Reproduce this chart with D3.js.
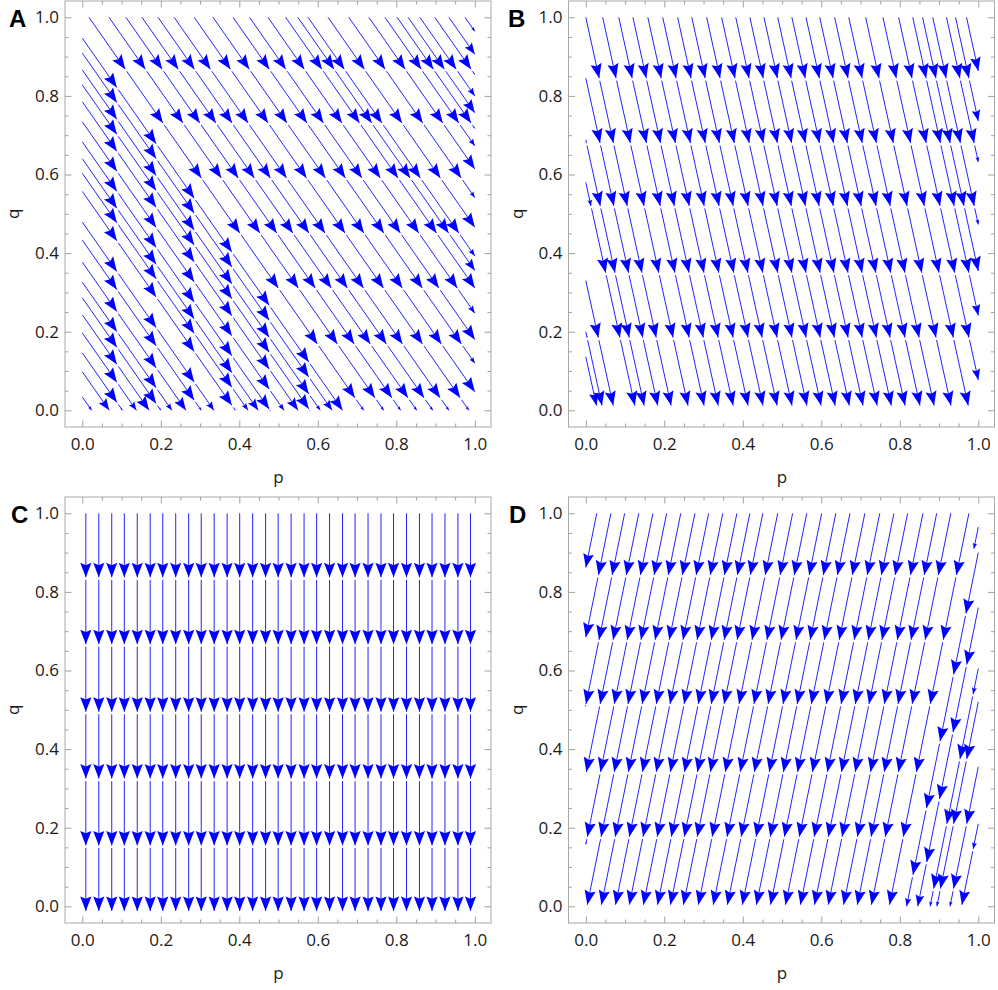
<!DOCTYPE html>
<html>
<head>
<meta charset="utf-8">
<script src="https://cdn.jsdelivr.net/npm/d3@7"></script>
<style>
body { margin:0; background:#fff; }
</style>
</head>
<body>
<div id="main"></div>
<script>
// ---- panel A : flow goes down-right, arrows sit on L shaped bands
const aSlope = 0.7
const aTopStarts = [0.017,0.068,0.111,0.152,0.193,0.234,0.285,0.333,0.384,0.426,0.473,0.518,0.549,0.575,0.626,0.679,0.730,0.771,0.802,0.830,0.860,0.898,0.934,0.975]
const aLeftStarts = [0.947,0.909,0.866,0.828,0.785,0.734,0.683,0.640,0.603,0.557,0.479,0.433,0.377,0.326,0.286,0.243,0.197,0.146,0.098,0.034]
const aRows = [0.868,0.731,0.591,0.451,0.311,0.169,0.032]
const aCols = [0.088,0.188,0.285,0.381,0.476,0.577,0.68]

// ---- panel B : slight slant to the right
const bSlope = 0.22
const bTopStarts = [0,0.043,0.084,0.120,0.158,0.196,0.234,0.270,0.308,0.346,0.382,0.418,0.454,0.489,0.525,0.561,0.596,0.634,0.670,0.713,0.757,0.797,0.833,0.858,0.884,0.919,0.942,0.970]
const bLeftStarts = [0.845,0.688,0.58,0.33,0.2,0.136]
const bRows = [0.845,0.68,0.52,0.35,0.185,0.012]

// ---- panel C : straight down
const cColumns = [0.009,0.042,0.075,0.107,0.140,0.173,0.205,0.238,0.271,0.303,0.336,0.369,0.401,0.434,0.467,0.499,0.532,0.565,0.597,0.630,0.663,0.695,0.728,0.761,0.793,0.826,0.859,0.891,0.924,0.957,0.989]
const cRows = [0.837,0.667,0.495,0.325,0.155,-0.012]

// ---- panel D : slant to the left, odd wedge on the right side
const dSlope = -0.203
const dTopStarts = [0.028,0.064,0.099,0.135,0.171,0.206,0.242,0.278,0.313,0.349,0.385,0.418,0.451,0.489,0.527,0.563,0.601,0.637,0.673,0.711,0.749,0.785,0.820,0.859,0.894,0.930,0.976]
const dRows = [0.843,0.678,0.515,0.342,0.177,0.004]
// lines coming in from the right edge (p=1), with their own arrow spots
const dWedge = [
    {q0:0.965, breaks:[], end:0.91},
    {q0:0.90, breaks:[0.745,0.59,0.42,0.25,0.08], end:0},
    {q0:0.76, breaks:[0.615,0.443,0.273,0.113], end:0},
    {q0:0.605, breaks:[0.54,0.375,0.21,0.045], end:0},
    {q0:0.52, breaks:[0.375,0.21,0.045], end:0},
    {q0:0.355, breaks:[0.21,0.045], end:0},
    {q0:0.21, breaks:[0.146], end:0.004}
]

const majorTicks = [0,0.2,0.4,0.6,0.8,1.0]
const tickLabels = ["0.0","0.2","0.4","0.6","0.8","1.0"]
const minorTicks = [0.05,0.1,0.15,0.25,0.3,0.35,0.45,0.5,0.55,0.65,0.7,0.75,0.85,0.9,0.95]

const panels = [
    {name:"A", dx:0, dy:0, lx:9, ly:27},
    {name:"B", dx:503.5, dy:0, lx:508, ly:27},
    {name:"C", dx:0, dy:496, lx:11, ly:523},
    {name:"D", dx:503.5, dy:496, lx:509, ly:523}
]

const xs = d3.scaleLinear().domain([0,1]).range([82.3,474.8])
const ys = d3.scaleLinear().domain([0,1]).range([410.3,17.3])
const frame = {left:65, top:1, right:491, bottom:427}
const font = "'Open Sans', 'Noto Sans', sans-serif"
const blue = "#0000ff"

// cut one straight streamline into pieces, each piece ends with an arrow
function streamline(p0, q0, s, breaks, qEnd)
{
    let qExit = qEnd
    if (s > 0) qExit = Math.max(qExit, q0 - (1 - p0) / s)
    if (s < 0) qExit = Math.max(qExit, q0 + p0 / s)
    let stops = breaks.filter(b => b < q0 && b > qExit).sort((a, b) => b - a)
    stops.push(qExit)
    let segs = []
    let qa = q0
    stops.forEach((qb, i) => {
        segs.push({
            x1: xs(p0 + s * (q0 - qa)), y1: ys(qa),
            x2: xs(p0 + s * (q0 - qb)), y2: ys(qb),
            first: i == 0
        })
        qa = qb
    })
    return segs
}

// where a line of panel A crosses the L bands
function aBreaks(p0, q0)
{
    let out = []
    aRows.forEach((r, k) => {
        let c = aCols[k]
        let pr = p0 + aSlope * (q0 - r)
        if (r < q0 && pr >= c) out.push(r)
        else if (c > p0) out.push(q0 - (c - p0) / aSlope)
    })
    return out
}

function segmentsFor(name)
{
    let segs = []
    if (name == "A") {
        aTopStarts.forEach(p => segs = segs.concat(streamline(p, 1, aSlope, aBreaks(p, 1), 0)))
        aLeftStarts.forEach(q => segs = segs.concat(streamline(0, q, aSlope, aBreaks(0, q), 0)))
    }
    if (name == "B") {
        bTopStarts.forEach(p => segs = segs.concat(streamline(p, 1, bSlope, bRows, bRows[bRows.length - 1])))
        bLeftStarts.forEach(q => segs = segs.concat(streamline(0, q, bSlope, bRows, bRows[bRows.length - 1])))
    }
    if (name == "C") {
        cColumns.forEach(p => segs = segs.concat(streamline(p, 1, 0, cRows, cRows[cRows.length - 1])))
    }
    if (name == "D") {
        dTopStarts.forEach(p => segs = segs.concat(streamline(p, 1, dSlope, dRows, dRows[dRows.length - 1])))
        dWedge.forEach(w => segs = segs.concat(streamline(1, w.q0, dSlope, w.breaks, w.end)))
    }
    return segs
}

function drawPanel(svg, pn)
{
    let g = svg.append("g").attr("transform", "translate(" + pn.dx + "," + pn.dy + ")")

    g.append("rect")
    .attr("x", frame.left).attr("y", frame.top)
    .attr("width", frame.right - frame.left).attr("height", frame.bottom - frame.top)
    .attr("fill", "none").attr("stroke", "#a8a8a8").attr("stroke-width", 1)

    // ticks on 4 sides, pointing in
    let sides = [
        {ax: d3.axisBottom(xs), t: "translate(0," + frame.bottom + ")", lab: true, pad: 11},
        {ax: d3.axisTop(xs), t: "translate(0," + frame.top + ")", lab: false, pad: 6},
        {ax: d3.axisLeft(ys), t: "translate(" + frame.left + ",0)", lab: true, pad: 6},
        {ax: d3.axisRight(ys), t: "translate(" + frame.right + ",0)", lab: false, pad: 6}
    ]
    sides.forEach(sd => {
        let major = g.append("g").attr("transform", sd.t)
        .call(sd.ax.tickValues(majorTicks).tickSize(-6.5)
            .tickPadding(sd.pad)
            .tickFormat((d, i) => sd.lab ? tickLabels[i] : ""))
        major.select(".domain").remove()
        major.attr("font-family", font).attr("font-size", 17)
        major.selectAll("line").attr("stroke", "#a0a0a0")
        major.selectAll("text").attr("fill", "#1a1a1a")

        let minor = g.append("g").attr("transform", sd.t)
        .call(sd.ax.tickValues(minorTicks).tickSize(-3.5).tickFormat(""))
        minor.select(".domain").remove()
        minor.selectAll("line").attr("stroke", "#a0a0a0")
    })

    g.append("text").text("p")
    .attr("x", xs(0.5)).attr("y", 483)
    .attr("text-anchor", "middle")
    .attr("font-family", font).attr("font-size", 17).attr("fill", "#1a1a1a")

    g.append("text").text("q")
    .attr("transform", "translate(19," + ys(0.5) + ") rotate(-90)")
    .attr("text-anchor", "middle")
    .attr("font-family", font).attr("font-size", 17).attr("fill", "#1a1a1a")

    // streamlines
    let segs = segmentsFor(pn.name)
    let gap = 2.5
    g.append("g").selectAll("line")
    .data(segs)
    .enter()
    .append("line")
    .attr("x1", d => {
        let len = Math.hypot(d.x2 - d.x1, d.y2 - d.y1) || 1
        return d.first ? d.x1 : d.x1 + gap * (d.x2 - d.x1) / len
    })
    .attr("y1", d => {
        let len = Math.hypot(d.x2 - d.x1, d.y2 - d.y1) || 1
        return d.first ? d.y1 : d.y1 + gap * (d.y2 - d.y1) / len
    })
    .attr("x2", d => d.x2)
    .attr("y2", d => d.y2)
    .attr("stroke", "#2424ff")
    .attr("stroke-width", 1)

    // arrow heads, shrink on short pieces like mathematica does
    let heads = segs.filter(d => Math.hypot(d.x2 - d.x1, d.y2 - d.y1) > 3)
    g.append("g").selectAll("path")
    .data(heads)
    .enter()
    .append("path")
    .attr("d", d => {
        let sc = Math.min(1, Math.hypot(d.x2 - d.x1, d.y2 - d.y1) / 58)
        let L = 14.5 * sc, W = 5.6 * sc
        return "M0,0L" + (-L) + "," + W + "L" + (-0.84 * L) + ",0L" + (-L) + "," + (-W) + "Z"
    })
    .attr("transform", d => {
        let ang = Math.atan2(d.y2 - d.y1, d.x2 - d.x1) * 180 / Math.PI
        return "translate(" + d.x2 + "," + d.y2 + ") rotate(" + ang + ")"
    })
    .attr("fill", blue)

    svg.append("text").text(pn.name)
    .attr("x", pn.lx).attr("y", pn.ly)
    .attr("font-family", "'Liberation Sans', Arial, sans-serif")
    .attr("font-weight", "bold").attr("font-size", 24).attr("fill", "#000")
}

function initViz()
{
    let svg = d3.select("#main").append("svg")
    .attr("width", 998).attr("height", 990)
    panels.forEach(pn => drawPanel(svg, pn))
}

initViz()
</script>
</body>
</html>
